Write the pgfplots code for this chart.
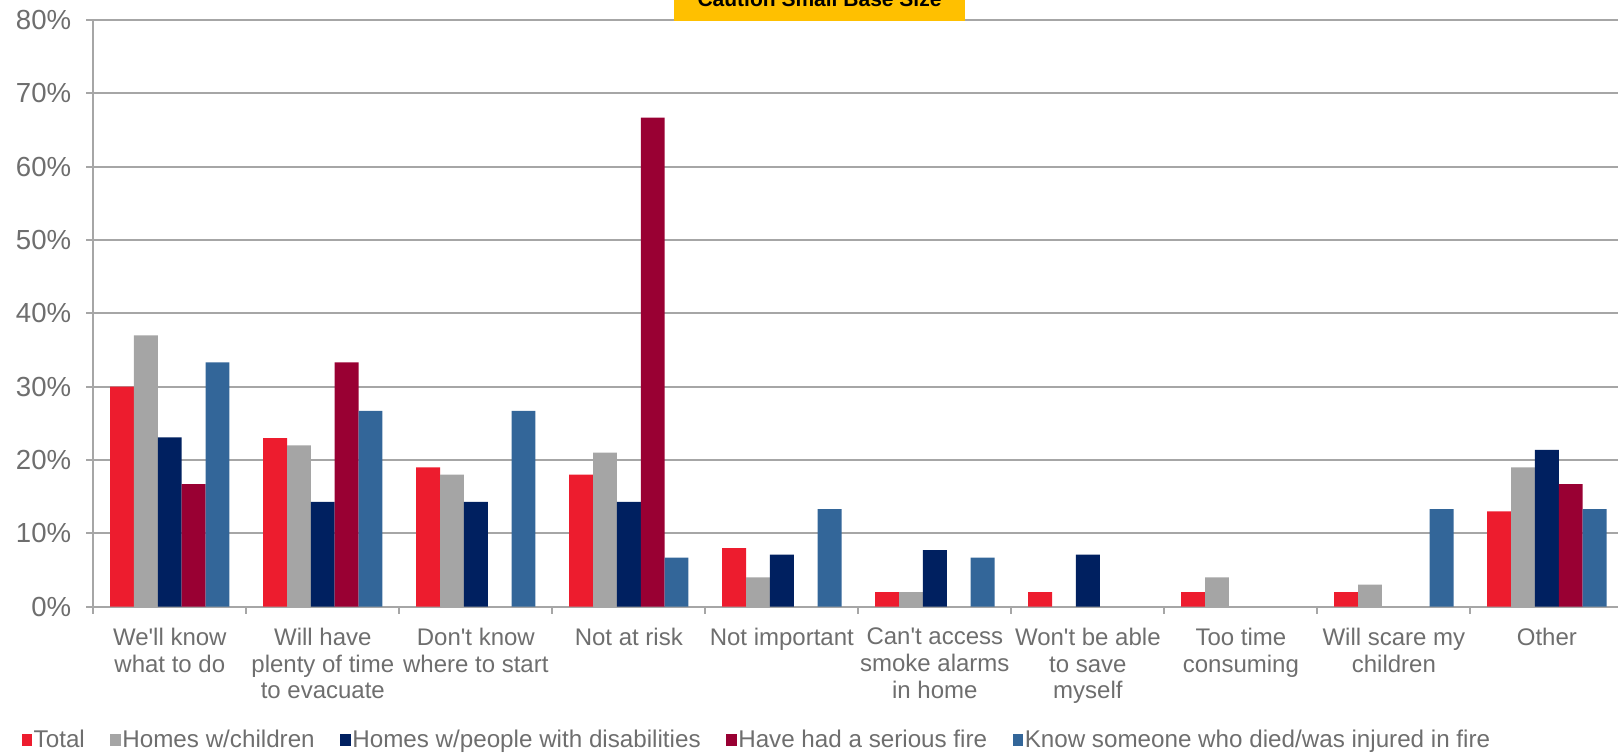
\documentclass[border=0pt]{standalone}
\usepackage{fontspec}
\setmainfont{Liberation Sans}[Ligatures=TeXOff]
\usepackage{pgfplots}
\pgfplotsset{compat=1.18}
\definecolor{cRed}{HTML}{ED1C2E}
\definecolor{cGray}{HTML}{A5A5A5}
\definecolor{cNavy}{HTML}{002060}
\definecolor{cMaroon}{HTML}{990033}
\definecolor{cBlue}{HTML}{336699}
\definecolor{txt}{HTML}{6E6E6E}
\definecolor{gridc}{HTML}{A6A6A6}
\definecolor{caution}{HTML}{FFC000}
\begin{document}
\begin{tikzpicture}
\begin{axis}[
  at={(0,0)}, anchor=south west,
  scale only axis, width=762.35pt, height=293.35pt,
  xmin=-0.5, xmax=9.465, ymin=0, ymax=80,
  clip=false,
  axis x line=bottom, axis y line=left,
  axis line style={-, draw=gridc, line width=1pt},
  ybar=0pt, bar width=0.156,
  ytick={0,10,...,80},
  yticklabel={\pgfmathprintnumber{\tick}\%},
  /pgf/number format/assume math mode=true,
  ymajorgrids, grid style={draw=gridc, line width=1pt},
  tick align=outside,
  major tick length=3.5pt, minor tick length=3.5pt,
  xtick={0,...,9},
  minor xtick={-0.5,0.5,...,8.5},
  major x tick style={draw=none},
  minor x tick style={draw=gridc, line width=1pt},
  y tick style={draw=gridc, line width=1pt},
  yticklabel style={font=\fontsize{13.8}{15}\selectfont, text=txt, xshift=-4pt},
  xticklabel style={font=\fontsize{12}{13.3}\selectfont, text=txt, align=center, anchor=north, inner sep=0pt, yshift=-7pt},
  xticklabels={{We'll know\\what to do},{Will have\\plenty of time\\to evacuate},{Don't know\\where to start},{Not at risk},{Not important},{Can't access\\smoke alarms\\in home},{Won't be able\\to save\\myself},{Too time\\consuming},{Will scare my\\children},{Other}},
  legend columns=-1,
  legend image code/.code={\fill[#1] (0pt,-2.8pt) rectangle (5.2pt,3.6pt);},
  legend style={at={(axis description cs:0,0)}, anchor=west, xshift=-36pt, yshift=-67pt,
    draw=none, fill=none, inner sep=0pt, text=txt,
    font=\fontsize{12.1}{13.5}\selectfont,
    nodes={inner sep=0.8pt},
    /tikz/every even column/.append style={column sep=12pt}},
]
\addplot[fill=cRed, draw=none] coordinates {(0,30) (1,23) (2,19) (3,18) (4,8) (5,2) (6,2) (7,2) (8,2) (9,13)};
\addplot[fill=cGray, draw=none] coordinates {(0,37) (1,22) (2,18) (3,21) (4,4) (5,2) (7,4) (8,3) (9,19)};
\addplot[fill=cNavy, draw=none] coordinates {(0,23.1) (1,14.3) (2,14.3) (3,14.3) (4,7.1) (5,7.7) (6,7.1) (9,21.4)};
\addplot[fill=cMaroon, draw=none] coordinates {(0,16.7) (1,33.3) (3,66.7) (9,16.7)};
\addplot[fill=cBlue, draw=none] coordinates {(0,33.3) (1,26.7) (2,26.7) (3,6.7) (4,13.3) (5,6.7) (8,13.3) (9,13.3)};
\legend{Total, Homes w/children, Homes w/people with disabilities, Have had a serious fire, Know someone who died/was injured in fire}
\node[fill=caution, font=\fontsize{10.5}{12}\selectfont\bfseries, text=black, minimum width=145.5pt, inner sep=0pt, text height=22pt, text depth=7.35pt, anchor=base] at (axis description cs:0.4763,1) [yshift=7pt] {Caution Small Base Size};
\end{axis}
\pgfresetboundingbox
\path[use as bounding box] (-46.65pt,-72.65pt) rectangle (762.35pt,303.35pt);
\end{tikzpicture}
\end{document}
